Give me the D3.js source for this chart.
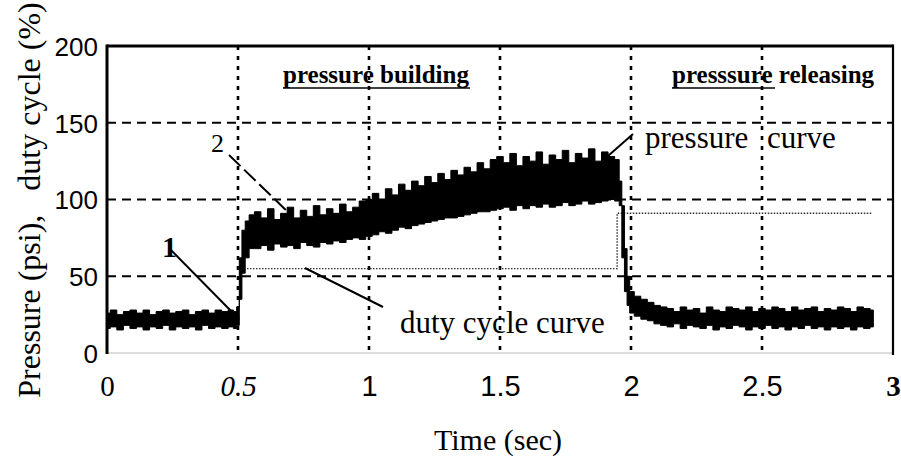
<!DOCTYPE html>
<html>
<head>
<meta charset="utf-8">
<script src="https://cdn.jsdelivr.net/npm/d3@7/dist/d3.min.js"></script>
<style>
  html, body { margin: 0; padding: 0; background: #fff; }
  svg { display: block; }
</style>
</head>
<body>
<svg id="chart" width="901" height="462"></svg>
<script>
// ---------------- DATA ----------------
const xTickValues = [0, 0.5, 1, 1.5, 2, 2.5, 3];
const xTickLabels = ["0", "0.5", "1", "1.5", "2", "2.5", "3"];
const yTickValues = [0, 50, 100, 150, 200];
const yTickLabels = ["0", "50", "100", "150", "200"];
const vGridValues = [0.5, 1, 1.5, 2, 2.5];
const hGridValues = [50, 100, 150];

// duty cycle curve (%)
const dutyTime  = [0, 0.5, 0.5, 1.947, 1.947, 2.92];
const dutyValue = [0, 0,   55,  55,    91,    91];

// pressure curve: noisy band read as lower / upper envelope (psi)
const pressureTime = [
  0, 0.025, 0.05, 0.075, 0.1, 0.125, 0.15, 0.175, 0.2, 0.225,
  0.25, 0.275, 0.3, 0.325, 0.35, 0.375, 0.4, 0.425, 0.45, 0.475,
  0.49, 0.5, 0.51, 0.52, 0.535, 0.55,
  0.575, 0.6, 0.625, 0.65, 0.675, 0.7, 0.725, 0.75, 0.775, 0.8,
  0.825, 0.85, 0.875, 0.9, 0.925, 0.95, 0.975, 1.0,
  1.025, 1.05, 1.075, 1.1, 1.125, 1.15, 1.175, 1.2, 1.225, 1.25,
  1.275, 1.3, 1.325, 1.35, 1.375, 1.4, 1.425, 1.45, 1.475, 1.5,
  1.525, 1.55, 1.575, 1.6, 1.625, 1.65, 1.675, 1.7, 1.725, 1.75,
  1.775, 1.8, 1.825, 1.85, 1.875, 1.9, 1.925, 1.95,
  1.96, 1.97, 1.98, 1.99,
  2.0, 2.025, 2.05, 2.075, 2.1, 2.125,
  2.15, 2.175, 2.2, 2.225, 2.25, 2.275, 2.3, 2.325, 2.35, 2.375,
  2.4, 2.425, 2.45, 2.475, 2.5, 2.525, 2.55, 2.575, 2.6, 2.625,
  2.65, 2.675, 2.7, 2.725, 2.75, 2.775, 2.8, 2.825, 2.85, 2.875,
  2.9, 2.925
];
const pressureHigh = [
  26, 28, 25, 27, 28, 26, 28, 25, 27, 28,
  26, 27, 28, 25, 27, 28, 26, 28, 27, 28,
  27, 30, 62, 80, 86, 90,
  92, 88, 94, 87, 91, 95, 88, 93, 89, 96,
  90, 94, 91, 97, 92, 95, 99, 100,
  104, 100, 107, 103, 110, 106, 112, 109, 115, 111,
  117, 113, 119, 116, 121, 118, 124, 120, 126, 128,
  124, 130, 122, 128, 125, 131, 123, 129, 126, 132,
  124, 130, 127, 133, 125, 131, 128, 126,
  112, 96, 68, 50,
  40, 37, 35, 33, 31, 30,
  29, 27, 30, 28, 29, 26, 30, 28, 27, 30,
  29, 28, 30, 27, 29, 28, 30, 29, 27, 30,
  28, 29, 30, 27, 29, 28, 30, 29, 27, 30,
  29, 28
];
const pressureLow = [
  16, 17, 15, 18, 16, 17, 15, 17, 16, 18,
  15, 17, 16, 17, 15, 18, 16, 17, 16, 17,
  16, 18, 35, 52, 62, 68,
  68, 70, 67, 71, 69, 70, 68, 72, 70, 69,
  72, 71, 73, 72, 74, 75, 74, 76,
  77, 79, 78, 80, 82, 81, 83, 84, 85, 86,
  87, 88, 88, 89, 90, 91, 92, 92, 93, 94,
  95, 93, 96, 94, 96, 95, 97, 95, 96, 98,
  96, 97, 99, 97, 98, 99, 100, 99,
  96, 62, 40, 31,
  26, 24, 22, 21, 19, 18,
  17, 19, 16, 18, 17, 16, 18, 15, 17, 16,
  18, 17, 15, 17, 16, 18, 16, 17, 15, 17,
  16, 18, 16, 17, 15, 17, 16, 17, 15, 17,
  16, 17
];

// annotation texts
const yTitle = "Pressure (psi),   duty cycle (%)";
const xTitle = "Time (sec)";

// ---------------- CHART ----------------
const svg = d3.select("#chart");
const x = d3.scaleLinear().domain([0, 3]).range([107, 893]);
const y = d3.scaleLinear().domain([0, 200]).range([353, 46]);

// grid
svg.append("g").selectAll("line").data(hGridValues).join("line")
  .attr("x1", x(0)).attr("x2", x(3))
  .attr("y1", d => y(d)).attr("y2", d => y(d))
  .attr("stroke", "#000").attr("stroke-width", 2.2)
  .attr("stroke-dasharray", "9,6");
svg.append("g").selectAll("line").data(vGridValues).join("line")
  .attr("x1", d => x(d)).attr("x2", d => x(d))
  .attr("y1", y(200)).attr("y2", y(0))
  .attr("stroke", "#000").attr("stroke-width", 2.6)
  .attr("stroke-dasharray", "4,6");

// duty cycle (dotted thin)
const dutyPts = dutyTime.map((t, i) => [t, dutyValue[i]]);
svg.append("path")
  .datum(dutyPts.slice(2))
  .attr("d", d3.line().x(d => x(d[0])).y(d => y(d[1])))
  .attr("fill", "none").attr("stroke", "#333").attr("stroke-width", 1.4)
  .attr("stroke-dasharray", "1.5,1.5");

// pressure band
const band = pressureTime.map((t, i) => ({t, lo: pressureLow[i], hi: pressureHigh[i]}));
svg.append("path")
  .datum(band)
  .attr("d", d3.area().curve(d3.curveStep).x(d => x(d.t)).y0(d => y(d.lo)).y1(d => y(d.hi)))
  .attr("fill", "#000").attr("stroke", "#000").attr("stroke-width", 1);

// frame
svg.append("line").attr("x1", x(0)).attr("x2", x(3)).attr("y1", y(0)).attr("y2", y(0))
  .attr("stroke", "#bbb").attr("stroke-width", 1.2);
svg.append("line").attr("x1", x(0)).attr("x2", x(3)).attr("y1", y(200)).attr("y2", y(200))
  .attr("stroke", "#000").attr("stroke-width", 3);
svg.append("line").attr("x1", x(0)).attr("x2", x(0)).attr("y1", y(200) - 1.5).attr("y2", y(0) + 1)
  .attr("stroke", "#000").attr("stroke-width", 3);
svg.append("line").attr("x1", x(3)).attr("x2", x(3)).attr("y1", y(200) - 1.5).attr("y2", y(0) + 2)
  .attr("stroke", "#000").attr("stroke-width", 2.2);

// y axis
const yAxis = d3.axisLeft(y).tickValues(yTickValues).tickFormat((d, i) => yTickLabels[i])
  .tickSize(0).tickPadding(0);
const gy = svg.append("g").attr("transform", `translate(${x(0) - 9},0)`).call(yAxis);
gy.select(".domain").remove();
gy.selectAll("text")
  .attr("font-family", "'Liberation Sans', Arial, sans-serif")
  .attr("font-size", 26).attr("fill", "#000").attr("dy", "0.36em");

// x axis
const xAxis = d3.axisBottom(x).tickValues(xTickValues).tickFormat((d, i) => xTickLabels[i])
  .tickSize(0).tickPadding(0);
const gx = svg.append("g").attr("transform", `translate(0,${y(0)})`).call(xAxis);
gx.select(".domain").remove();
const xFonts = [
  {f: "'Liberation Serif', serif", s: "normal", w: "normal"},
  {f: "'Liberation Serif', serif", s: "italic", w: "normal"},
  {f: "'Liberation Sans', Arial, sans-serif", s: "normal", w: "normal"},
  {f: "'Liberation Sans', Arial, sans-serif", s: "normal", w: "normal"},
  {f: "'Liberation Sans', Arial, sans-serif", s: "normal", w: "normal"},
  {f: "'Liberation Sans', Arial, sans-serif", s: "normal", w: "normal"},
  {f: "'Liberation Serif', serif", s: "normal", w: "bold"}
];
gx.selectAll("text")
  .attr("y", 43).attr("dy", 0)
  .attr("font-size", 29).attr("fill", "#000")
  .attr("font-family", (d, i) => xFonts[i].f)
  .attr("font-style", (d, i) => xFonts[i].s)
  .attr("font-weight", (d, i) => xFonts[i].w);

// axis titles
svg.append("text").attr("x", 498).attr("y", 450).attr("text-anchor", "middle")
  .attr("font-family", "'Liberation Serif', serif").attr("font-size", 30)
  .text(xTitle);
svg.append("text").attr("transform", "translate(40,200) rotate(-90)")
  .attr("text-anchor", "middle")
  .attr("font-family", "'Liberation Serif', serif").attr("font-size", 32)
  .style("white-space", "pre")
  .text(yTitle);

// annotations
const serif = "'Liberation Serif', serif";
svg.append("text").attr("x", 283).attr("y", 83)
  .attr("font-family", serif).attr("font-size", 25).attr("font-weight", "bold")
  .text("pressure building");
svg.append("line").attr("x1", 283).attr("x2", 470).attr("y1", 88).attr("y2", 88)
  .attr("stroke", "#000").attr("stroke-width", 1.5);

const t2 = svg.append("text").attr("x", 672).attr("y", 83)
  .attr("font-family", serif).attr("font-size", 25).attr("font-weight", "bold");
t2.append("tspan").text("presssure");
t2.append("tspan").text(" releasing");
svg.append("line").attr("x1", 672).attr("x2", 775).attr("y1", 88).attr("y2", 88)
  .attr("stroke", "#000").attr("stroke-width", 1.5);

svg.append("text").attr("x", 645).attr("y", 148)
  .attr("font-family", serif).attr("font-size", 31).text("pressure");
svg.append("text").attr("x", 767).attr("y", 148)
  .attr("font-family", serif).attr("font-size", 31).text("curve");
svg.append("text").attr("x", 400).attr("y", 333)
  .attr("font-family", serif).attr("font-size", 31).text("duty cycle curve");

svg.append("text").attr("x", 162).attr("y", 257)
  .attr("font-family", serif).attr("font-size", 30).attr("font-weight", "bold").text("1");
svg.append("text").attr("x", 211).attr("y", 152)
  .attr("font-family", serif).attr("font-size", 26).text("2");

// leader lines
const leaders = [
  {x1: 169, y1: 248, x2: 232, y2: 312, dash: null},
  {x1: 229, y1: 155, x2: 290, y2: 214, dash: "16,5"},
  {x1: 305, y1: 268, x2: 383, y2: 307, dash: null},
  {x1: 600, y1: 163, x2: 633, y2: 134, dash: null}
];
svg.append("g").selectAll("line").data(leaders).join("line")
  .attr("x1", d => d.x1).attr("y1", d => d.y1).attr("x2", d => d.x2).attr("y2", d => d.y2)
  .attr("stroke", "#000").attr("stroke-width", 2)
  .attr("stroke-dasharray", d => d.dash);
</script>
</body>
</html>
